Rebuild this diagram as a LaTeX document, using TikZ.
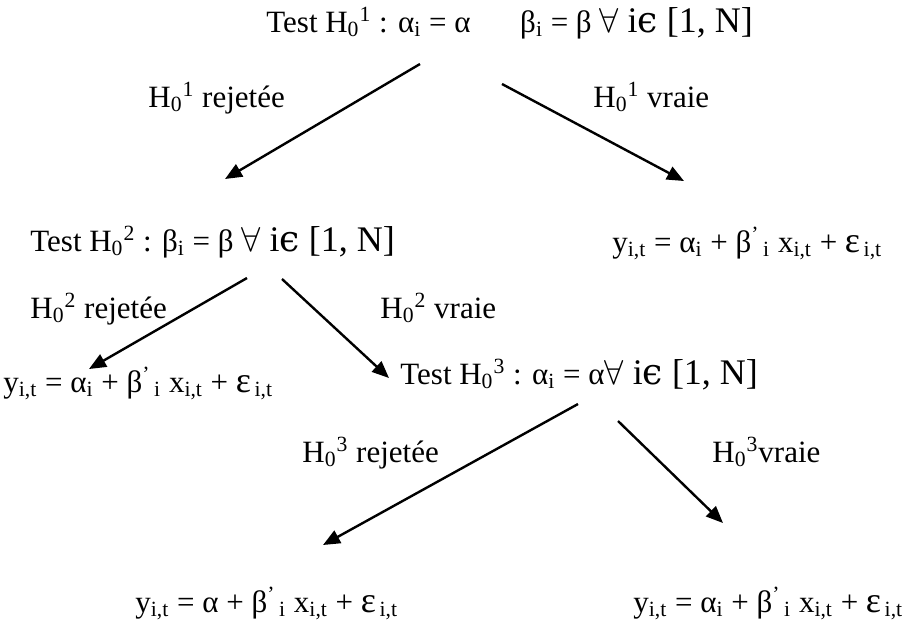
\documentclass[tikz,border=0pt]{standalone}
\usepackage{fontspec}
\setmainfont{Liberation Serif}
\newfontfamily\symserif{DejaVu Serif}
\usetikzlibrary{arrows.meta}
\newcommand{\hnull}[1]{H\textsubscript{0}\textsuperscript{#1}}
\newcommand{\pourtout}{{\fontsize{18}{18}\selectfont$\forall$ i{\symserif ϵ} [1, N]}}
\newcommand{\modele}[1]{y\textsubscript{i,t} = #1 + β\textsuperscript{'}\textsubscript{\,i} x\textsubscript{i,t} + {\fontsize{18}{18}\selectfont ε}\textsubscript{\,i,t}}

\begin{document}
\begin{tikzpicture}[x=0.5pt,y=-0.5pt,
    txt/.style={anchor=base west,inner sep=0pt,font=\fontsize{15.5}{15.5}\selectfont},
    fleche/.style={-{Triangle[length=8.5pt,width=7pt]},line width=1.2pt}]
    \useasboundingbox (0,0) rectangle (905,623);
    % tests and models
    \node[txt] (test1) at (266,32) {Test \hnull{1} : α\textsubscript{i} = α\hspace{1.6em}β\textsubscript{i} = β \pourtout};
    \node[txt] (test2) at (30,251) {Test \hnull{2} : β\textsubscript{i} = β \pourtout};
    \node[txt] (mod1) at (612,252) {\modele{α\textsubscript{i}}};
    \node[txt] (mod2) at (3,392) {\modele{α\textsubscript{i}}};
    \node[txt] (test3) at (400,384) {Test \hnull{3} : α\textsubscript{i} = α\pourtout};
    \node[txt] (mod3) at (135,612) {\modele{α}};
    \node[txt] (mod4) at (633,612) {\modele{α\textsubscript{i}}};
    % branch labels
    \node[txt] (rej1) at (148,107) {\hnull{1} rejetée};
    \node[txt] (vr1) at (593,107) {\hnull{1} vraie};
    \node[txt] (rej2) at (30,318) {\hnull{2} rejetée};
    \node[txt] (vr2) at (380,318) {\hnull{2} vraie};
    \node[txt] (rej3) at (302,462) {\hnull{3} rejetée};
    \node[txt] (vr3) at (712,462) {\hnull{3}vraie};
    % arrow ends
    \coordinate (d1) at (420,64);   \coordinate (f1) at (225,179);
    \coordinate (d2) at (502,84);   \coordinate (f2) at (684,181);
    \coordinate (d3) at (247,278);  \coordinate (f3) at (89,369);
    \coordinate (d4) at (282,279);  \coordinate (f4) at (389,378);
    \coordinate (d5) at (578,404);  \coordinate (f5) at (323,545);
    \coordinate (d6) at (618,421);  \coordinate (f6) at (723,523);
    \foreach \i in {1,...,6}
      \draw[fleche] (d\i) -- (f\i);
\end{tikzpicture}
\end{document}
